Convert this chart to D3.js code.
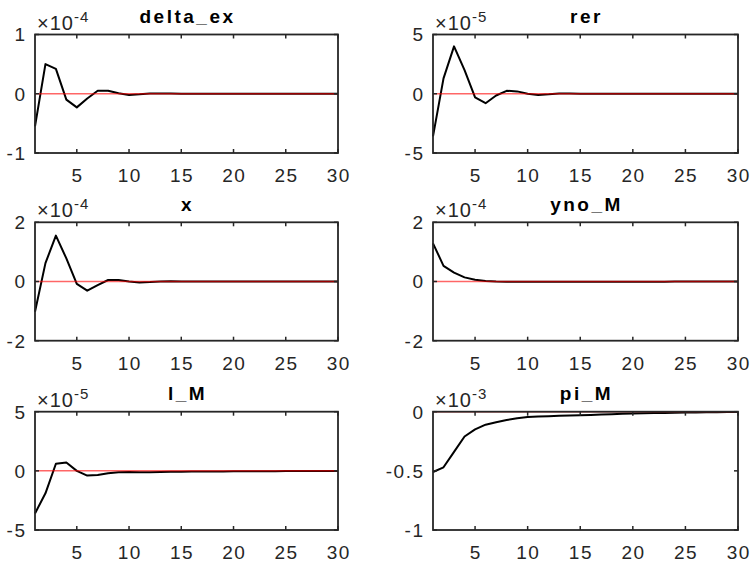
<!DOCTYPE html>
<html>
<head>
<meta charset="utf-8">
<script src="https://cdn.jsdelivr.net/npm/d3@7"></script>
<style>
  body { margin: 0; background: #fff; }
  text { font-family: "Liberation Sans", Arial, sans-serif; fill: #262626; }
</style>
</head>
<body>
<svg id="chart" width="752" height="564"></svg>
<script>
// periods 1..30
const periods = d3.range(1, 31)
const xTicks = [5, 10, 15, 20, 25, 30]

// responses, in units of the panel multiplier
const deltaEx = [-0.55, 0.50, 0.42, -0.10, -0.23, -0.08, 0.05, 0.05, 0.01, -0.02,
  -0.01, 0.005, 0.005, 0.003, 0.0, 0.0, 0.0, 0.0, 0.0, 0.0,
  0.0, 0.0, 0.0, 0.0, 0.0, 0.0, 0.0, 0.0, 0.0, 0.0]
const rer = [-3.6, 1.3, 4.0, 2.0, -0.3, -0.8, -0.15, 0.25, 0.2, 0.0,
  -0.1, -0.05, 0.02, 0.03, 0.01, 0.0, 0.0, 0.0, 0.0, 0.0,
  0.0, 0.0, 0.0, 0.0, 0.0, 0.0, 0.0, 0.0, 0.0, 0.0]
const xVar = [-1.02, 0.62, 1.55, 0.78, -0.08, -0.31, -0.12, 0.05, 0.05, 0.0,
  -0.03, -0.02, 0.0, 0.01, 0.0, 0.0, 0.0, 0.0, 0.0, 0.0,
  0.0, 0.0, 0.0, 0.0, 0.0, 0.0, 0.0, 0.0, 0.0, 0.0]
const ynoM = [1.29, 0.53, 0.30, 0.14, 0.06, 0.02, 0.0, -0.01, -0.01, -0.01,
  -0.01, -0.01, -0.01, -0.01, -0.01, -0.01, -0.01, -0.005, -0.005, -0.005,
  -0.005, -0.005, -0.005, 0.0, 0.0, 0.0, 0.0, 0.0, 0.0, 0.0]
const lM = [-3.6, -1.9, 0.6, 0.7, 0.0, -0.4, -0.35, -0.2, -0.12, -0.1,
  -0.12, -0.11, -0.1, -0.08, -0.07, -0.06, -0.06, -0.05, -0.05, -0.04,
  -0.04, -0.03, -0.03, -0.03, -0.02, -0.02, -0.02, -0.01, -0.01, -0.01]
const piM = [-0.51, -0.47, -0.34, -0.21, -0.15, -0.11, -0.09, -0.07, -0.055, -0.045,
  -0.041, -0.038, -0.035, -0.032, -0.03, -0.027, -0.024, -0.021, -0.018, -0.015,
  -0.013, -0.011, -0.01, -0.008, -0.007, -0.006, -0.005, -0.004, -0.003, -0.003]

const titles = ["delta_ex", "rer", "x", "yno_M", "l_M", "pi_M"]
const series = [deltaEx, rer, xVar, ynoM, lM, piM]
const exponents = ["-4", "-5", "-4", "-4", "-5", "-3"]
const yDomains = [[-1, 1], [-5, 5], [-2, 2], [-2, 2], [-5, 5], [-1, 0]]
const yTickSets = [[-1, 0, 1], [-5, 0, 5], [-2, 0, 2], [-2, 0, 2], [-5, 0, 5], [-1, -0.5, 0]]

// panel geometry (2 columns x 3 rows)
const cols = [{x0: 35, x1: 338}, {x0: 433, x1: 738}]
const rows = [{y0: 34.5, y1: 153}, {y0: 222.3, y1: 340.7}, {y0: 411.7, y1: 530}]

const svg = d3.select("#chart")
const axisColor = "#262626"

titles.forEach(function(title, i) {
  const c = cols[i % 2], r = rows[Math.floor(i / 2)]
  const x = d3.scaleLinear().domain([1, 30]).range([c.x0, c.x1])
  const y = d3.scaleLinear().domain(yDomains[i]).range([r.y1, r.y0])
  const g = svg.append("g")

  // data line
  const line = d3.line().x(function(d, k) { return x(periods[k]) }).y(function(d) { return y(d) })
  g.append("path")
    .datum(series[i])
    .attr("fill", "none")
    .attr("stroke", "#000")
    .attr("stroke-width", 2)
    .attr("stroke-linejoin", "round")
    .attr("d", line)

  // zero line (red, drawn on top)
  g.append("line")
    .attr("x1", x(1)).attr("x2", x(30))
    .attr("y1", y(0)).attr("y2", y(0))
    .attr("stroke", "#ff0000")
    .attr("stroke-opacity", 0.6)
    .attr("stroke-width", 1.5)

  // box
  g.append("rect")
    .attr("x", c.x0).attr("y", r.y0)
    .attr("width", c.x1 - c.x0).attr("height", r.y1 - r.y0)
    .attr("fill", "none")
    .attr("stroke", axisColor)
    .attr("stroke-width", 1.8)

  // inward ticks, bottom and top
  xTicks.forEach(function(t) {
    g.append("line").attr("x1", x(t)).attr("x2", x(t)).attr("y1", r.y1).attr("y2", r.y1 - 4)
      .attr("stroke", axisColor).attr("stroke-width", 1.5)
    g.append("line").attr("x1", x(t)).attr("x2", x(t)).attr("y1", r.y0).attr("y2", r.y0 + 4)
      .attr("stroke", axisColor).attr("stroke-width", 1.5)
  })
  yTickSets[i].forEach(function(t) {
    g.append("line").attr("x1", c.x0).attr("x2", c.x0 + 4).attr("y1", y(t)).attr("y2", y(t))
      .attr("stroke", axisColor).attr("stroke-width", 1.5)
    g.append("line").attr("x1", c.x1).attr("x2", c.x1 - 4).attr("y1", y(t)).attr("y2", y(t))
      .attr("stroke", axisColor).attr("stroke-width", 1.5)
  })

  // tick labels
  g.selectAll(".xl").data(xTicks).enter().append("text")
    .attr("x", function(d) { return x(d) + 0.7 })
    .attr("y", r.y1 + 29)
    .attr("text-anchor", "middle")
    .style("font-size", "19px")
    .style("letter-spacing", "1.5px")
    .text(function(d) { return d })
  g.selectAll(".yl").data(yTickSets[i]).enter().append("text")
    .attr("x", c.x0 - 8.5)
    .attr("y", function(d) { return y(d) })
    .attr("dy", "0.36em")
    .attr("text-anchor", "end")
    .style("font-size", "19px")
    .style("letter-spacing", "1.5px")
    .text(function(d) { return d })

  // exponent label
  const ex = g.append("text")
    .attr("x", c.x0 + 2)
    .attr("y", r.y0 - 5)
    .style("font-size", "20px")
    .style("letter-spacing", "1px")
  ex.append("tspan").text("\u00d710")
  ex.append("tspan").attr("dy", -8).style("font-size", "15px").text(exponents[i])

  // title
  g.append("text")
    .attr("x", (c.x0 + c.x1) / 2 + 1)
    .attr("y", r.y0 - 11.5)
    .attr("text-anchor", "middle")
    .style("font-size", "19px")
    .style("font-weight", "bold")
    .style("letter-spacing", "2.5px")
    .style("fill", "#000")
    .text(title)
})
</script>
</body>
</html>
